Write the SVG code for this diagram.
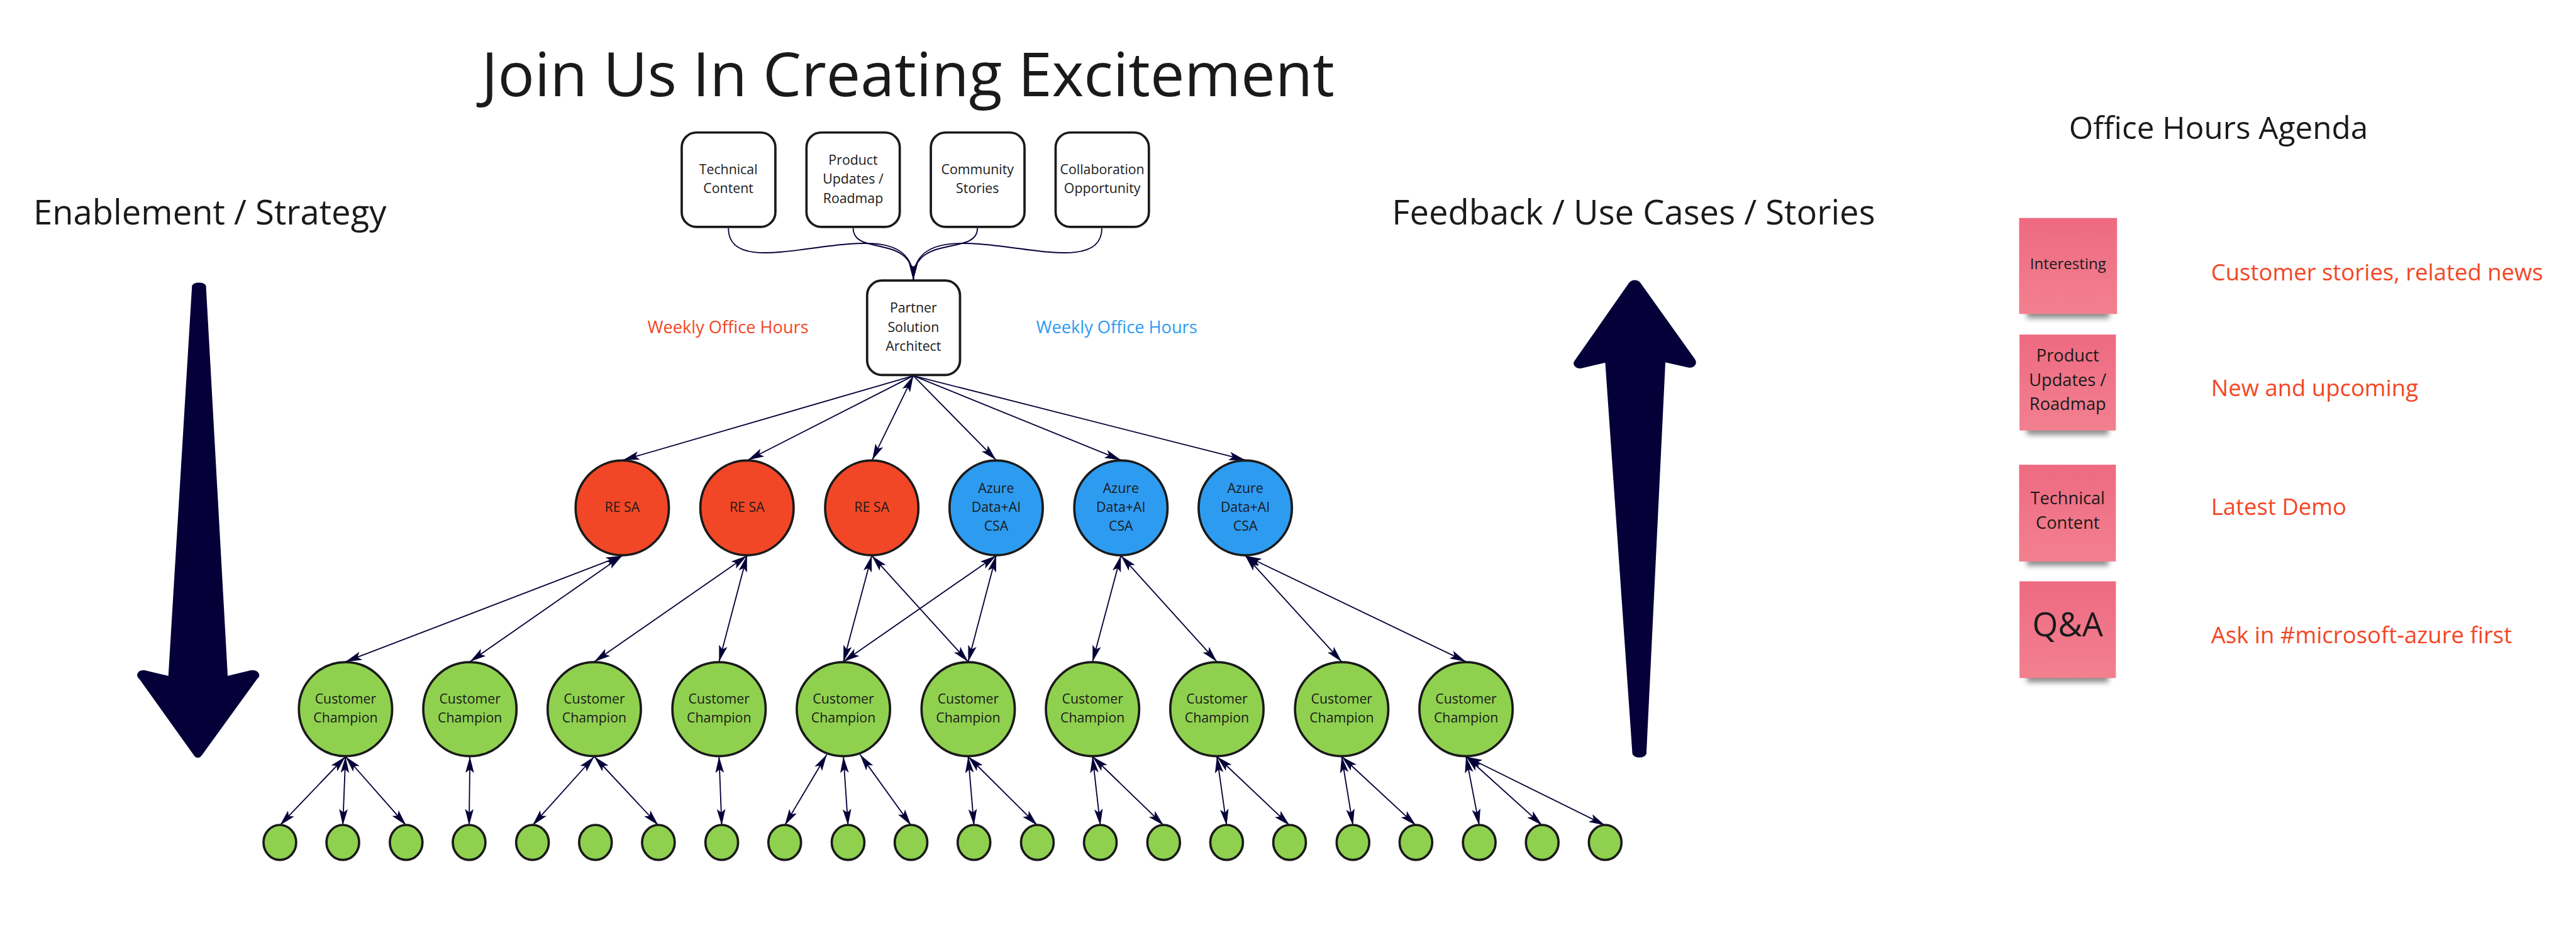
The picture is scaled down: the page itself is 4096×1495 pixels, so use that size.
<svg xmlns="http://www.w3.org/2000/svg" width="4096" height="1495" viewBox="0 0 4096 1495">
<defs>
<style>
.t{font-family:"Open Sans","Noto Sans","Liberation Sans",sans-serif;fill:#1a1a1a}
.m{text-anchor:middle}
.s34{font-size:34.5px}
.box{fill:#ffffff;stroke:#1a1a1a;stroke-width:6}
.red{fill:#F24726;stroke:#1a1a1a;stroke-width:6}
.blue{fill:#2D9BF0;stroke:#1a1a1a;stroke-width:6}
.green{fill:#8FD14F;stroke:#1a1a1a;stroke-width:6}
.c{fill:none;stroke:#050038;stroke-width:3}
.bi{marker-start:url(#ah);marker-end:url(#ah)}
.uni{marker-end:url(#ah)}
.big{fill:#050038;stroke:#050038;stroke-width:4;stroke-linejoin:round}
.note{fill:url(#ng)}
.noteTxt{font-family:"Open Sans","Noto Sans","Liberation Sans",sans-serif;fill:#1a1a1a;text-anchor:middle}
.ag{font-family:"Open Sans","Noto Sans","Liberation Sans",sans-serif;fill:#F24726;font-size:59px}
</style>
<marker id="ah" viewBox="-44 -13 46 26" refX="0" refY="0" markerWidth="46" markerHeight="26" markerUnits="userSpaceOnUse" orient="auto-start-reverse">
<path d="M0,0 L-42,-11 L-33,0 L-42,11 Z" fill="#050038"/>
</marker>
<linearGradient id="ng" x1="0" y1="0" x2="0" y2="1">
<stop offset="0" stop-color="#EE6A81"/>
<stop offset="1" stop-color="#F2808F"/>
</linearGradient>
<filter id="sh" x="-20%" y="-50%" width="140%" height="200%">
<feGaussianBlur stdDeviation="7"/>
</filter>
</defs>
<rect width="4096" height="1495" fill="#ffffff"/>
<g transform="scale(0.618)">

<!-- Headings -->
<g id="title"><text class="t m" x="2336" y="247" font-size="157">Join Us In Creating Excitement</text></g>
<g id="enablement"><text class="t m" x="540" y="578" font-size="88">Enablement / Strategy</text></g>
<g id="feedback"><text class="t m" x="4203" y="578" font-size="88">Feedback / Use Cases / Stories</text></g>
<g id="agenda-title"><text class="t m" x="5708" y="357" font-size="80">Office Hours Agenda</text></g>

<!-- Big arrows -->
<g id="arrow-down"><path class="big" d="M496,736 C500,727 524,727 528,736 L584,1742 L646,1727 C664,1725 670,1738 660,1746 L518,1942 C512,1950 506,1950 500,1942 L360,1746 C350,1738 356,1725 372,1727 L435,1742 Z"/></g>
<g id="arrow-up"><path class="big" d="M4193,729 C4200,721 4212,721 4219,729 L4359,925 C4366,935 4358,946 4344,944 L4283,930 L4234,1940 C4228,1950 4208,1950 4202,1940 L4132,931 L4068,946 C4054,947 4046,936 4054,928 Z"/></g>

<!-- Connectors -->
<g id="connectors">
<path class="c uni" d="M1874,587 C1874,760 2350,500 2350,720"/>
<path class="c uni" d="M2835,587 C2835,760 2350,500 2350,720"/>
<path class="c uni" d="M2195,587 C2195,660 2350,600 2350,720"/>
<path class="c uni" d="M2515,587 C2515,660 2350,600 2350,720"/>

<line class="c uni" x1="2350" y1="967" x2="1603" y2="1184"/>
<line class="c uni" x1="2350" y1="967" x2="1924" y2="1184"/>
<line class="c bi" x1="2350" y1="967" x2="2244" y2="1184"/>
<line class="c uni" x1="2350" y1="967" x2="2563" y2="1184"/>
<line class="c uni" x1="2350" y1="967" x2="2884" y2="1184"/>
<line class="c uni" x1="2350" y1="967" x2="3204" y2="1184"/>

<line class="c bi" x1="1601" y1="1430" x2="889" y2="1703"/>
<line class="c bi" x1="1601" y1="1430" x2="1209" y2="1703"/>
<line class="c bi" x1="1922" y1="1430" x2="1529" y2="1703"/>
<line class="c bi" x1="1922" y1="1430" x2="1850" y2="1703"/>
<line class="c bi" x1="2243" y1="1430" x2="2170" y2="1703"/>
<line class="c bi" x1="2243" y1="1430" x2="2491" y2="1703"/>
<line class="c bi" x1="2563" y1="1430" x2="2170" y2="1703"/>
<line class="c bi" x1="2563" y1="1430" x2="2491" y2="1703"/>
<line class="c bi" x1="2884" y1="1430" x2="2811" y2="1703"/>
<line class="c bi" x1="2884" y1="1430" x2="3131" y2="1703"/>
<line class="c bi" x1="3204" y1="1430" x2="3452" y2="1703"/>
<line class="c bi" x1="3204" y1="1430" x2="3772" y2="1703"/>

<line class="c bi" x1="889" y1="1947" x2="720" y2="2124"/>
<line class="c bi" x1="889" y1="1947" x2="882" y2="2124"/>
<line class="c bi" x1="889" y1="1947" x2="1045" y2="2124"/>
<line class="c bi" x1="1209" y1="1947" x2="1207" y2="2124"/>
<line class="c bi" x1="1529" y1="1947" x2="1370" y2="2124"/>
<line class="c bi" x1="1529" y1="1947" x2="1694" y2="2124"/>
<line class="c bi" x1="1850" y1="1947" x2="1857" y2="2124"/>
<line class="c bi" x1="2127" y1="1942" x2="2019" y2="2124"/>
<line class="c bi" x1="2170" y1="1947" x2="2182" y2="2124"/>
<line class="c bi" x1="2213" y1="1942" x2="2344" y2="2124"/>
<line class="c bi" x1="2491" y1="1947" x2="2506" y2="2124"/>
<line class="c bi" x1="2491" y1="1947" x2="2669" y2="2124"/>
<line class="c bi" x1="2811" y1="1947" x2="2831" y2="2124"/>
<line class="c bi" x1="2811" y1="1947" x2="2994" y2="2124"/>
<line class="c bi" x1="3131" y1="1947" x2="3156" y2="2124"/>
<line class="c bi" x1="3131" y1="1947" x2="3318" y2="2124"/>
<line class="c bi" x1="3452" y1="1947" x2="3481" y2="2124"/>
<line class="c bi" x1="3452" y1="1947" x2="3643" y2="2124"/>
<line class="c bi" x1="3772" y1="1947" x2="3806" y2="2124"/>
<line class="c bi" x1="3772" y1="1947" x2="3968" y2="2124"/>
<line class="c bi" x1="3772" y1="1947" x2="4130" y2="2124"/>
</g>

<!-- Top boxes -->
<g id="box-technical"><rect class="box" x="1754" y="341" width="241" height="243" rx="38"/>
<text class="t m s34" x="1874" y="448">Technical</text><text class="t m s34" x="1874" y="497">Content</text></g>
<g id="box-product"><rect class="box" x="2075" y="341" width="240" height="243" rx="38"/>
<text class="t m s34" x="2195" y="424">Product</text><text class="t m s34" x="2195" y="473">Updates /</text><text class="t m s34" x="2195" y="522">Roadmap</text></g>
<g id="box-community"><rect class="box" x="2395" y="341" width="241" height="243" rx="38"/>
<text class="t m s34" x="2515" y="448">Community</text><text class="t m s34" x="2515" y="497">Stories</text></g>
<g id="box-collab"><rect class="box" x="2716" y="341" width="240" height="243" rx="38"/>
<text class="t m s34" x="2836" y="448">Collaboration</text><text class="t m s34" x="2836" y="497">Opportunity</text></g>
<g id="box-psa"><rect class="box" x="2231" y="722" width="239" height="243" rx="38"/>
<text class="t m s34" x="2350" y="805">Partner</text><text class="t m s34" x="2350" y="854">Solution</text><text class="t m s34" x="2350" y="903">Architect</text></g>

<g id="label-weekly-red"><text class="t m" x="1873" y="858" font-size="44" style="fill:#F24726">Weekly Office Hours</text></g>
<g id="label-weekly-blue"><text class="t m" x="2873" y="858" font-size="44" style="fill:#2D9BF0">Weekly Office Hours</text></g>

<!-- Second level -->
<g id="resa-1"><ellipse class="red" cx="1601" cy="1307" rx="120" ry="122"/><text class="t m s34" x="1601" y="1317">RE SA</text></g>
<g id="resa-2"><ellipse class="red" cx="1922" cy="1307" rx="120" ry="122"/><text class="t m s34" x="1922" y="1317">RE SA</text></g>
<g id="resa-3"><ellipse class="red" cx="2243" cy="1307" rx="120" ry="122"/><text class="t m s34" x="2243" y="1317">RE SA</text></g>
<g id="azure-1"><ellipse class="blue" cx="2563" cy="1307" rx="120" ry="122"/><text class="t m s34" x="2563" y="1268">Azure</text><text class="t m s34" x="2563" y="1317">Data+AI</text><text class="t m s34" x="2563" y="1366">CSA</text></g>
<g id="azure-2"><ellipse class="blue" cx="2884" cy="1307" rx="120" ry="122"/><text class="t m s34" x="2884" y="1268">Azure</text><text class="t m s34" x="2884" y="1317">Data+AI</text><text class="t m s34" x="2884" y="1366">CSA</text></g>
<g id="azure-3"><ellipse class="blue" cx="3204" cy="1307" rx="120" ry="122"/><text class="t m s34" x="3204" y="1268">Azure</text><text class="t m s34" x="3204" y="1317">Data+AI</text><text class="t m s34" x="3204" y="1366">CSA</text></g>

<!-- Customer Champions -->
<g id="cc-0"><ellipse class="green" cx="889" cy="1825" rx="120" ry="121"/><text class="t m s34" x="889" y="1811">Customer</text><text class="t m s34" x="889" y="1860">Champion</text></g>
<g id="cc-1"><ellipse class="green" cx="1209" cy="1825" rx="120" ry="121"/><text class="t m s34" x="1209" y="1811">Customer</text><text class="t m s34" x="1209" y="1860">Champion</text></g>
<g id="cc-2"><ellipse class="green" cx="1529" cy="1825" rx="120" ry="121"/><text class="t m s34" x="1529" y="1811">Customer</text><text class="t m s34" x="1529" y="1860">Champion</text></g>
<g id="cc-3"><ellipse class="green" cx="1850" cy="1825" rx="120" ry="121"/><text class="t m s34" x="1850" y="1811">Customer</text><text class="t m s34" x="1850" y="1860">Champion</text></g>
<g id="cc-4"><ellipse class="green" cx="2170" cy="1825" rx="120" ry="121"/><text class="t m s34" x="2170" y="1811">Customer</text><text class="t m s34" x="2170" y="1860">Champion</text></g>
<g id="cc-5"><ellipse class="green" cx="2491" cy="1825" rx="120" ry="121"/><text class="t m s34" x="2491" y="1811">Customer</text><text class="t m s34" x="2491" y="1860">Champion</text></g>
<g id="cc-6"><ellipse class="green" cx="2811" cy="1825" rx="120" ry="121"/><text class="t m s34" x="2811" y="1811">Customer</text><text class="t m s34" x="2811" y="1860">Champion</text></g>
<g id="cc-7"><ellipse class="green" cx="3131" cy="1825" rx="120" ry="121"/><text class="t m s34" x="3131" y="1811">Customer</text><text class="t m s34" x="3131" y="1860">Champion</text></g>
<g id="cc-8"><ellipse class="green" cx="3452" cy="1825" rx="120" ry="121"/><text class="t m s34" x="3452" y="1811">Customer</text><text class="t m s34" x="3452" y="1860">Champion</text></g>
<g id="cc-9"><ellipse class="green" cx="3772" cy="1825" rx="120" ry="121"/><text class="t m s34" x="3772" y="1811">Customer</text><text class="t m s34" x="3772" y="1860">Champion</text></g>

<!-- Small circles -->
<g id="s-0"><ellipse class="green" cx="720" cy="2168" rx="42" ry="45"/></g>
<g id="s-1"><ellipse class="green" cx="882" cy="2168" rx="42" ry="45"/></g>
<g id="s-2"><ellipse class="green" cx="1045" cy="2168" rx="42" ry="45"/></g>
<g id="s-3"><ellipse class="green" cx="1207" cy="2168" rx="42" ry="45"/></g>
<g id="s-4"><ellipse class="green" cx="1370" cy="2168" rx="42" ry="45"/></g>
<g id="s-5"><ellipse class="green" cx="1532" cy="2168" rx="42" ry="45"/></g>
<g id="s-6"><ellipse class="green" cx="1694" cy="2168" rx="42" ry="45"/></g>
<g id="s-7"><ellipse class="green" cx="1857" cy="2168" rx="42" ry="45"/></g>
<g id="s-8"><ellipse class="green" cx="2019" cy="2168" rx="42" ry="45"/></g>
<g id="s-9"><ellipse class="green" cx="2182" cy="2168" rx="42" ry="45"/></g>
<g id="s-10"><ellipse class="green" cx="2344" cy="2168" rx="42" ry="45"/></g>
<g id="s-11"><ellipse class="green" cx="2506" cy="2168" rx="42" ry="45"/></g>
<g id="s-12"><ellipse class="green" cx="2669" cy="2168" rx="42" ry="45"/></g>
<g id="s-13"><ellipse class="green" cx="2831" cy="2168" rx="42" ry="45"/></g>
<g id="s-14"><ellipse class="green" cx="2994" cy="2168" rx="42" ry="45"/></g>
<g id="s-15"><ellipse class="green" cx="3156" cy="2168" rx="42" ry="45"/></g>
<g id="s-16"><ellipse class="green" cx="3318" cy="2168" rx="42" ry="45"/></g>
<g id="s-17"><ellipse class="green" cx="3481" cy="2168" rx="42" ry="45"/></g>
<g id="s-18"><ellipse class="green" cx="3643" cy="2168" rx="42" ry="45"/></g>
<g id="s-19"><ellipse class="green" cx="3806" cy="2168" rx="42" ry="45"/></g>
<g id="s-20"><ellipse class="green" cx="3968" cy="2168" rx="42" ry="45"/></g>
<g id="s-21"><ellipse class="green" cx="4130" cy="2168" rx="42" ry="45"/></g>

<!-- Agenda sticky notes -->
<g id="note-interesting">
<rect x="5215" y="785" width="212" height="34" fill="#000" opacity="0.45" filter="url(#sh)"/>
<rect class="note" x="5195" y="561" width="252" height="247"/>
<text class="noteTxt" x="5321" y="692" font-size="39">Interesting</text></g>
<g id="note-product">
<rect x="5215" y="1085" width="210" height="34" fill="#000" opacity="0.45" filter="url(#sh)"/>
<rect class="note" x="5196" y="861" width="248" height="247"/>
<text class="noteTxt" x="5320" y="931" font-size="44">Product</text><text class="noteTxt" x="5320" y="993" font-size="44">Updates /</text><text class="noteTxt" x="5320" y="1055" font-size="44">Roadmap</text></g>
<g id="note-technical">
<rect x="5215" y="1422" width="210" height="34" fill="#000" opacity="0.45" filter="url(#sh)"/>
<rect class="note" x="5195" y="1196" width="249" height="249"/>
<text class="noteTxt" x="5320" y="1298" font-size="44">Technical</text><text class="noteTxt" x="5320" y="1361" font-size="44">Content</text></g>
<g id="note-qa">
<rect x="5215" y="1722" width="210" height="34" fill="#000" opacity="0.45" filter="url(#sh)"/>
<rect class="note" x="5196" y="1496" width="248" height="249"/>
<text class="noteTxt" x="5320" y="1638" font-size="85">Q&amp;A</text></g>

<g id="agenda-1"><text class="ag" x="5689" y="721">Customer stories, related news</text></g>
<g id="agenda-2"><text class="ag" x="5689" y="1020">New and upcoming</text></g>
<g id="agenda-3"><text class="ag" x="5689" y="1325">Latest Demo</text></g>
<g id="agenda-4"><text class="ag" x="5689" y="1655">Ask in #microsoft-azure first</text></g>

</g>
</svg>
